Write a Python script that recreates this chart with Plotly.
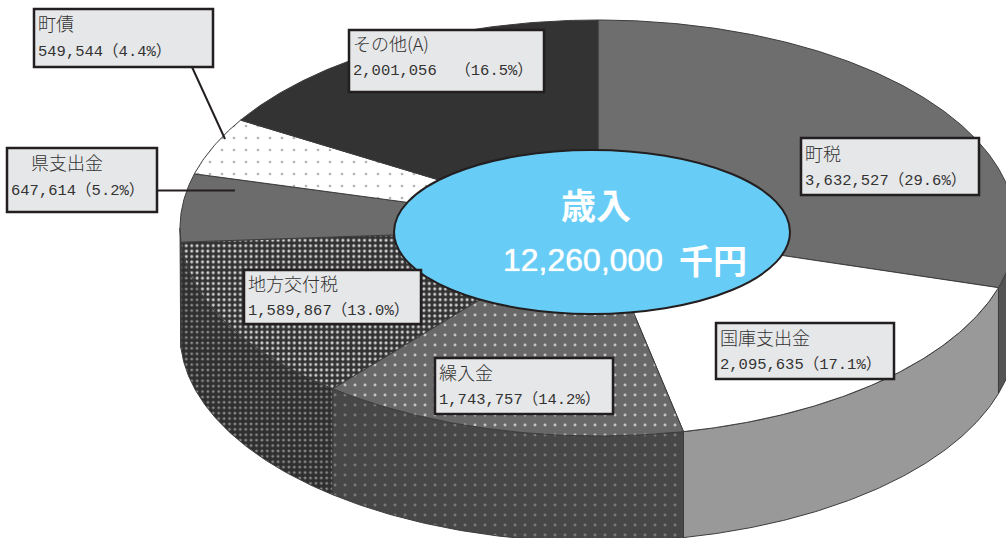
import numpy as np
import plotly.graph_objects as go

# ---- data ----
categories = ["町税", "国庫支出金", "繰入金", "地方交付税", "県支出金", "町債", "その他(A)"]
values = [3632527, 2095635, 1743757, 1589867, 647614, 549544, 2001056]
percent_labels = ["29.6", "17.1", "14.2", "13.0", "5.2", "4.4", "16.5"]
total_value = "12,260,000"
total_title = "歳入"
total_unit = "千円"

# ---- style ----
top_bg = ["#6e6e6e", "#ffffff", "#686868", "#333333", "#6c6c6c", "#ffffff", "#333333"]
top_fg = [None, None, "#c4c4c4", "#d0d0d0", None, "#b4b4b4", None]
top_size = [0, 0, 10, 5.4, 0, 12, 0]
top_sol = [0, 0, 0.07, 0.25, 0, 0.04, 0]
side_bg = ["#545454", "#999999", "#474747", "#2f2f2f", "#545454", "#ffffff", "#333333"]
side_fg = [None, None, "#7a7a7a", "#8a8a8a", None, None, None]
side_size = [0, 0, 10, 5.4, 0, 0, 0]
side_sol = [0, 0, 0.07, 0.22, 0, 0, 0]

CX, CY, RX, RY, DEPTH = 598, 228, 418, 208, 106
EDGE = "#3c3c3c"


def pt(deg, dy=0.0):
    r = np.radians(deg)
    return CX + RX * np.sin(r), CY - RY * np.cos(r) + dy


def pattern(bg, fg, size, sol):
    if fg is None:
        return dict(shape="", bgcolor=bg)
    return dict(shape=".", bgcolor=bg, fgcolor=fg, size=size, solidity=sol, fgopacity=1)


fig = go.Figure()
edges = np.cumsum([0] + values) / sum(values) * 360.0

for i in range(len(values)):
    a0, a1 = edges[i], edges[i + 1]
    lo, hi = max(a0, 90), min(a1, 270)
    if hi > lo:
        t = np.linspace(lo, hi, int(hi - lo) * 2 + 2)
        x, y = pt(t)
        xs = np.r_[x, x[::-1], x[0]]
        ys = np.r_[y, (y + DEPTH)[::-1], y[0]]
        fig.add_trace(go.Scatter(x=xs, y=ys, mode="lines", fill="toself",
                                 fillcolor=side_bg[i],
                                 fillpattern=pattern(side_bg[i], side_fg[i], side_size[i], side_sol[i]),
                                 line=dict(color=EDGE, width=1), hoverinfo="skip"))

for i in range(len(values)):
    a0, a1 = edges[i], edges[i + 1]
    t = np.linspace(a0, a1, int(a1 - a0) * 2 + 2)
    x, y = pt(t)
    xs = np.r_[CX, x, CX]
    ys = np.r_[CY, y, CY]
    fig.add_trace(go.Scatter(x=xs, y=ys, mode="lines", fill="toself",
                             fillcolor=top_bg[i],
                             fillpattern=pattern(top_bg[i], top_fg[i], top_size[i], top_sol[i]),
                             line=dict(color=EDGE, width=1), hoverinfo="skip"))

# label boxes: x0, y0, x1, y1, indent of first line, first-line and second-line offsets
boxes = {
    "町税": (801, 138, 979, 195, 0, 15, 43),
    "国庫支出金": (716, 323, 894, 379, 0, 14, 42),
    "繰入金": (435, 358, 613, 414, 0, 14, 42),
    "地方交付税": (244, 270, 421, 324, 0, 13, 41),
    "県支出金": (7, 148, 157, 212, 20, 14, 43),
    "町債": (34, 9, 213, 67, 0, 14, 43),
    "その他(A)": (349, 30, 544, 92, 0, 13, 41),
}
INK = "#333333"
shapes = [
    dict(type="line", x0=192, y0=67, x1=225, y1=139, line=dict(color="#231f20", width=2)),
    dict(type="line", x0=157, y0=190.5, x1=235, y1=190.5, line=dict(color="#231f20", width=2)),
    dict(type="circle", x0=394, y0=150, x1=790, y1=314, fillcolor="#68CDF6",
         line=dict(color="#231f20", width=2)),
]
annotations = []
for name, val, pct in zip(categories, values, percent_labels):
    x0, y0, x1, y1, ind, off1, off2 = boxes[name]
    shapes.append(dict(type="rect", x0=x0, y0=y0, x1=x1, y1=y1, fillcolor="#e6e7e9",
                       line=dict(color="#231f20", width=2.5)))
    gap = "  " if name.startswith("その他") else ""
    line2 = f"{val:,}{gap}（{pct}%）"
    annotations.append(dict(x=x0 + 2 + ind, y=y0 + off1, text=name, showarrow=False,
                            xanchor="left", yanchor="middle",
                            font=dict(family="Noto Sans CJK JP", size=18, color=INK, weight=300)))
    annotations.append(dict(x=x0 + 2, y=y0 + off2, text=line2, showarrow=False,
                            xanchor="left", yanchor="middle",
                            font=dict(family="Liberation Mono, Noto Sans CJK JP", size=15.5, color=INK)))

annotations += [
    dict(x=596, y=203, text=f"<b>{total_title}</b>", showarrow=False,
         font=dict(family="Noto Sans CJK JP", size=35, color="white")),
    dict(x=501, y=260, text=total_value, showarrow=False, xanchor="left",
         font=dict(family="Liberation Sans", size=32, color="white", shadow="0 0 1px white")),
    dict(x=677, y=259, text=f"<b>{total_unit}</b>", showarrow=False, xanchor="left",
         font=dict(family="Noto Sans CJK JP", size=34, color="white")),
]

fig.update_layout(
    width=1006, height=538, margin=dict(l=0, r=0, t=0, b=0),
    paper_bgcolor="white", plot_bgcolor="white", showlegend=False,
    xaxis=dict(range=[0, 1006], visible=False, fixedrange=True),
    yaxis=dict(range=[538, 0], visible=False, fixedrange=True),
    shapes=shapes, annotations=annotations, hovermode=False,
)
fig.write_html("out.html", config=dict(displayModeBar=False),
               post_script="document.body.style.margin='0';document.body.style.overflow='hidden';")
